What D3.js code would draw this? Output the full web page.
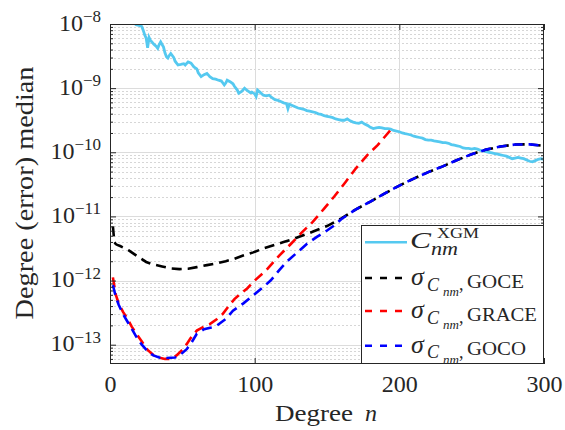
<!DOCTYPE html>
<html><head><meta charset="utf-8">
<script src="https://cdn.jsdelivr.net/npm/d3@7"></script>
<style>
body{margin:0;background:#fff}
svg{display:block}
text{font-family:"Liberation Serif","Times New Roman",serif;fill:#262626}
</style>
</head><body>
<svg id="c" width="565" height="430"></svg>
<script>
// ---- data ----
const xgmDeg = [14,16,18,20,22,23,24,25,26,27,28,29,30,31,32,33,34,35,37,38,39,40,41,42,44,45,47,49,51,52,54,56,58,60,61,63,65,67,69,71,73,75,77,79,80,81,83,85,86,88,89,91,93,95,97,98,100,101,102,104,106,108,110,112,114,116,118,120,122,123,124,126,128,130,132,134,136,138,140,142,144,146,148,150,152,154,156,158,160,162,164,166,168,170,172,174,176,178,180,182,184,186,188,190,192,194,196,198,200,202,204,206,208,210,212,214,216,218,220,222,224,226,228,230,232,234,236,238,240,242,244,246,248,250,252,254,256,258,260,262,264,266,268,270,272,274,276,278,280,282,284,286,288,290,292,294,296,298,300];
const xgmVal = [1.20e-8,1.07e-8,9.77e-9,9.55e-9,9.12e-9,7.94e-9,6.76e-9,6.03e-9,4.27e-9,6.17e-9,5.50e-9,5.25e-9,4.90e-9,4.68e-9,4.47e-9,4.17e-9,4.79e-9,5.25e-9,4.37e-9,3.55e-9,3.09e-9,2.95e-9,3.24e-9,3.47e-9,3.02e-9,2.63e-9,2.29e-9,2.34e-9,2.40e-9,2.29e-9,2.57e-9,2.45e-9,2.14e-9,2.00e-9,1.74e-9,1.51e-9,1.62e-9,1.70e-9,1.51e-9,1.41e-9,1.38e-9,1.33e-9,1.29e-9,1.12e-9,1.20e-9,1.33e-9,1.26e-9,1.17e-9,1.07e-9,9.33e-10,8.32e-10,8.91e-10,1.00e-9,9.12e-10,8.51e-10,8.71e-10,8.13e-10,7.41e-10,9.33e-10,8.51e-10,7.76e-10,7.59e-10,7.76e-10,7.08e-10,6.61e-10,6.46e-10,6.17e-10,5.89e-10,5.75e-10,4.79e-10,5.62e-10,5.37e-10,5.13e-10,4.90e-10,4.79e-10,4.68e-10,4.47e-10,4.37e-10,4.27e-10,4.17e-10,3.98e-10,3.89e-10,3.72e-10,3.63e-10,3.55e-10,3.47e-10,3.31e-10,3.24e-10,3.16e-10,3.16e-10,3.31e-10,3.09e-10,2.95e-10,2.88e-10,2.82e-10,2.95e-10,2.75e-10,2.63e-10,2.45e-10,2.34e-10,2.40e-10,2.45e-10,2.40e-10,2.34e-10,2.34e-10,2.29e-10,2.19e-10,2.14e-10,2.09e-10,2.00e-10,1.95e-10,1.91e-10,1.86e-10,1.78e-10,1.74e-10,1.70e-10,1.66e-10,1.58e-10,1.55e-10,1.55e-10,1.51e-10,1.48e-10,1.45e-10,1.41e-10,1.41e-10,1.38e-10,1.32e-10,1.29e-10,1.26e-10,1.23e-10,1.17e-10,1.15e-10,1.15e-10,1.12e-10,1.15e-10,1.12e-10,1.07e-10,1.05e-10,1.02e-10,1.00e-10,9.77e-11,9.55e-11,9.33e-11,9.12e-11,8.91e-11,8.71e-11,8.32e-11,7.94e-11,8.13e-11,8.32e-11,8.13e-11,7.94e-11,7.59e-11,7.24e-11,7.08e-11,7.41e-11,7.76e-11,7.94e-11,7.76e-11];

const goceDeg = [2,3,4,5,7,10,13,16,20,25,30,36,42,48,54,60,67,74,80,86,92,99,106,113,120,127,134,140,150,160,170,180,190,200,210,220,230,240,250,260,270,280,290,300];
const goceVal = [7.0e-12,4.0e-12,3.7e-12,3.6e-12,3.45e-12,3.2e-12,2.95e-12,2.65e-12,2.3e-12,1.95e-12,1.78e-12,1.66e-12,1.55e-12,1.51e-12,1.53e-12,1.62e-12,1.74e-12,1.86e-12,2.0e-12,2.19e-12,2.45e-12,2.75e-12,3.16e-12,3.55e-12,3.98e-12,4.47e-12,5.13e-12,5.75e-12,7.08e-12,9.33e-12,1.29e-11,1.70e-11,2.29e-11,3.02e-11,3.89e-11,4.90e-11,6.03e-11,7.59e-11,9.33e-11,1.10e-10,1.23e-10,1.32e-10,1.33e-10,1.26e-10];

const graceDeg = [2,4,6,9,12,15,18,22,26,30,34,38,42,46,50,53,56,60,64,69,74,78,82,86,90,95,100,108,117,125,133,140,148,155,163,170,178,185,191,196];
const graceVal = [1.12e-12,6.0e-13,4.4e-13,3.24e-13,2.57e-13,1.91e-13,1.51e-13,1.12e-13,8.3e-14,6.9e-14,6.3e-14,6.0e-14,6.0e-14,6.8e-14,8.3e-14,1.02e-13,1.29e-13,1.66e-13,1.86e-13,2.09e-13,2.51e-13,3.02e-13,3.98e-13,5.13e-13,6.17e-13,7.59e-13,1.0e-12,1.45e-12,2.45e-12,3.72e-12,5.75e-12,8.13e-12,1.32e-11,2.04e-11,3.47e-11,5.62e-11,9.12e-11,1.29e-10,1.86e-10,2.51e-10];

const gocoDeg = [2,4,6,9,12,15,18,22,26,30,34,39,45,49,53,56,60,65,70,74,80,85,92,99,105,111,117,122,129,136,143,150,155,160,170,180,190,200,210,220,230,240,250,260,270,280,290,300];
const gocoVal = [8.5e-13,5.6e-13,4.2e-13,3.0e-13,2.3e-13,1.78e-13,1.35e-13,1.0e-13,7.9e-14,6.8e-14,6.3e-14,6.2e-14,6.3e-14,7.1e-14,8.5e-14,1.05e-13,1.48e-13,1.74e-13,1.86e-13,2.0e-13,2.51e-13,3.39e-13,4.37e-13,5.89e-13,7.59e-13,1.0e-12,1.45e-12,1.95e-12,2.69e-12,3.72e-12,4.79e-12,6.03e-12,7.24e-12,9.12e-12,1.29e-11,1.70e-11,2.29e-11,3.02e-11,3.89e-11,4.90e-11,6.03e-11,7.59e-11,9.33e-11,1.10e-10,1.23e-10,1.32e-10,1.33e-10,1.26e-10];

const xTicks = [0,100,200,300];
const yTicks = [1e-13,1e-12,1e-11,1e-10,1e-9,1e-8];
const yTickExp = ["−13","−12","−11","−10","−9","−8"];
const seriesNames = ["XGM","GOCE","GRACE","GOCO"];
const seriesColors = ["#55c9f0","#000000","#ff0000","#0000ff"];

// ---- layout ----
const L=110, R=544, T=24, B=364;
const svg = d3.select("#c");
const x = d3.scaleLinear().domain([0,300]).range([L,R]);
const y = d3.scaleLog().domain([5e-14,1e-8]).range([B,T]);

// grid
const minor = [];
for (let e=-14; e<=-9; e++) for (let k=2;k<=9;k++){ const v=k*Math.pow(10,e); if (v>5e-14 && v<1e-8) minor.push(v); }
const grid = svg.append("g");
grid.selectAll("line.mn").data(minor).join("line")
  .attr("x1",L).attr("x2",R).attr("y1",d=>Math.round(y(d))+0.5).attr("y2",d=>Math.round(y(d))+0.5)
  .attr("stroke","#d6d6d6").attr("stroke-width",1).attr("stroke-dasharray","2,2");
grid.selectAll("line.mj").data(yTicks).join("line")
  .attr("x1",L).attr("x2",R).attr("y1",d=>Math.round(y(d))+0.5).attr("y2",d=>Math.round(y(d))+0.5)
  .attr("stroke","#dcdcdc").attr("stroke-width",1);
grid.selectAll("line.vx").data([100,200]).join("line")
  .attr("y1",T).attr("y2",B).attr("x1",d=>Math.round(x(d))+0.5).attr("x2",d=>Math.round(x(d))+0.5)
  .attr("stroke","#dcdcdc").attr("stroke-width",1);

// curves
svg.append("clipPath").attr("id","pc").append("rect").attr("x",L).attr("y",T).attr("width",R-L).attr("height",B-T);
const line = d3.line().x(d=>x(d[0])).y(d=>y(d[1]));
const plot = svg.append("g").attr("clip-path","url(#pc)");
const sets = [
  [xgmDeg,xgmVal,null],
  [goceDeg,goceVal,"10,6"],
  [graceDeg,graceVal,"10,6"],
  [gocoDeg,gocoVal,"10,6"]
];
sets.forEach((s,i)=>{
  plot.append("path").datum(s[0].map((n,j)=>[n,s[1][j]]))
    .attr("d",line).attr("fill","none").attr("stroke",seriesColors[i])
    .attr("stroke-width",i===0?2.8:2.6).attr("stroke-dasharray",s[2]);
});

// axes (ticks inward)
const axL = svg.append("g").attr("transform",`translate(${L},0)`)
  .call(d3.axisLeft(y).tickValues(yTicks).tickSize(-6).tickPadding(9));
const axR = svg.append("g").attr("transform",`translate(${R},0)`)
  .call(d3.axisRight(y).tickValues(yTicks).tickSize(-6).tickFormat(""));
const axLm = svg.append("g").attr("transform",`translate(${L},0)`)
  .call(d3.axisLeft(y).tickValues(minor).tickSize(-3).tickFormat(""));
const axRm = svg.append("g").attr("transform",`translate(${R},0)`)
  .call(d3.axisRight(y).tickValues(minor).tickSize(-3).tickFormat(""));
const axB = svg.append("g").attr("transform",`translate(0,${B})`)
  .call(d3.axisBottom(x).tickValues(xTicks).tickSize(-6).tickPadding(12));
const axT = svg.append("g").attr("transform",`translate(0,${T})`)
  .call(d3.axisTop(x).tickValues(xTicks).tickSize(-6).tickFormat(""));
[axL,axR,axLm,axRm,axB,axT].forEach(a=>{
  a.select(".domain").remove();
  a.selectAll(".tick line").attr("stroke","#262626").attr("stroke-width",1);
});
axB.selectAll("text").attr("font-size",24).attr("fill","#262626")
  .attr("dy",null).attr("y",392-B);
axL.selectAll("text").each(function(d){
  const t = d3.select(this).text(null).attr("dy",null).attr("y",6).attr("fill","#262626");
  t.append("tspan").attr("font-size",24).text("10");
  t.append("tspan").attr("font-size",17).attr("dy",-8.5).text(yTickExp[yTicks.indexOf(d)]);
});

// box
svg.append("rect").attr("x",L+0.5).attr("y",T+0.5).attr("width",R-L-1).attr("height",B-T-1)
  .attr("fill","none").attr("stroke","#262626").attr("stroke-width",1);

// axis labels
const xl = svg.append("text").attr("y",421).attr("font-size",24);
xl.append("tspan").attr("x",275).attr("textLength",78).attr("lengthAdjust","spacingAndGlyphs").text("Degree");
xl.append("tspan").attr("x",365).attr("font-style","italic").text("n");
svg.append("text").attr("transform","translate(33,193) rotate(-90)")
  .attr("text-anchor","middle").attr("font-size",26)
  .attr("textLength",253).attr("lengthAdjust","spacingAndGlyphs")
  .text("Degree (error) median");

// legend
const lg = svg.append("g");
lg.append("rect").attr("x",361.5).attr("y",225.5).attr("width",182).attr("height",138)
  .attr("fill","#fff").attr("stroke","#262626").attr("stroke-width",1);
const rowY = [242.3,278,311,345.7];
seriesNames.forEach((nm,i)=>{
  lg.append("line").attr("x1",365).attr("x2",407).attr("y1",rowY[i]).attr("y2",rowY[i])
    .attr("stroke",seriesColors[i]).attr("stroke-width",2.6)
    .attr("stroke-dasharray",i===0?null:"7,8");
});
{
  const yy=rowY[0];
  lg.append("text").attr("x",410).attr("y",yy+6).attr("font-size",24).attr("font-style","italic")
    .attr("textLength",21).attr("lengthAdjust","spacingAndGlyphs").text("C");
  lg.append("text").attr("x",437).attr("y",yy-4).attr("font-size",15)
    .attr("textLength",42).attr("lengthAdjust","spacingAndGlyphs").text(seriesNames[0]);
  lg.append("text").attr("x",431).attr("y",yy+12.5).attr("font-size",18).attr("font-style","italic")
    .attr("textLength",27).attr("lengthAdjust","spacingAndGlyphs").text("nm");
}
const subW = {GOCE:57,GRACE:70,GOCO:59};
[1,2,3].forEach(i=>{
  const yy=rowY[i];
  lg.append("text").attr("x",411).attr("y",yy+7).attr("font-size",26).attr("font-style","italic")
    .text("σ");
  lg.append("text").attr("x",427).attr("y",yy+12.5).attr("font-size",18).attr("font-style","italic")
    .text("C");
  lg.append("text").attr("x",443).attr("y",yy+18).attr("font-size",13).attr("font-style","italic")
    .text("nm");
  lg.append("text").attr("x",459).attr("y",yy+12).attr("font-size",18).text(",");
  lg.append("text").attr("x",467).attr("y",yy+9.5).attr("font-size",18)
    .attr("textLength",subW[seriesNames[i]]).attr("lengthAdjust","spacingAndGlyphs").text(seriesNames[i]);
});
</script>
</body></html>
